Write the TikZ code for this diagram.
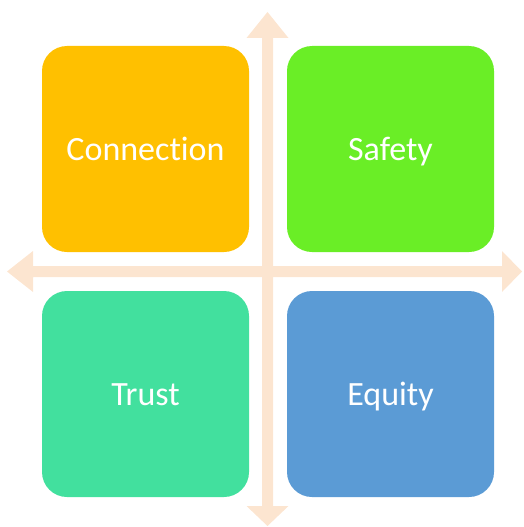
\documentclass[tikz,border=0pt]{standalone}
\usepackage{fontspec}
\setmainfont[Ligatures=NoCommon]{Carlito}
\definecolor{arrowc}{HTML}{FCE5D0}
\definecolor{cconn}{HTML}{FFC000}
\definecolor{csafe}{HTML}{6AEE26}
\definecolor{ctrust}{HTML}{42E09E}
\definecolor{cequity}{HTML}{5B9BD5}
\begin{document}
\begin{tikzpicture}[x=1pt,y=-1pt,
  quad/.style={rounded corners=25pt, minimum width=207pt, minimum height=206pt,
    inner sep=0pt, text=white, text height=22pt, text depth=0pt,
    font=\fontsize{34}{40}\selectfont},
  arr/.style={fill=arrowc, draw=none}]
\useasboundingbox (0,0) rectangle (523,527);
% arrows
\coordinate (c) at (267.5,271.5);
\fill[arr] (262,38) -- (246.5,38) -- (267.5,12) -- (288.5,38) -- (273,38)
  -- (273,506) -- (288.5,506) -- (267.5,526) -- (246.5,506) -- (262,506) -- cycle;
\fill[arr] (33,266) -- (33,251) -- (7,271.5) -- (33,292) -- (33,277)
  -- (502,277) -- (502,292) -- (522,271.5) -- (502,251) -- (502,266) -- cycle;
% boxes
\node[quad, fill=cconn] (conn) at (145.5,149) {Connection};
\node[quad, fill=csafe] (safe) at (390.5,149) {Safety};
\node[quad, fill=ctrust] (trust) at (145.5,394) {Trust};
\node[quad, fill=cequity] (equity) at (390.5,394) {Equity};
\end{tikzpicture}
\end{document}
